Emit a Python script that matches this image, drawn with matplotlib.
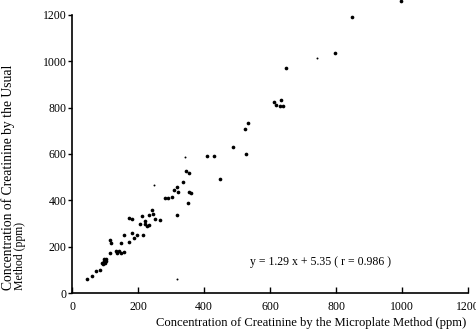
import matplotlib
matplotlib.use("Agg")
import matplotlib.pyplot as plt

plt.rcParams["font.family"] = ["Liberation Serif", "DejaVu Serif"]

# microplate method (x) vs usual method (y), ppm
micro = [997, 849, 798, 648, 612, 632, 618, 630, 638, 533, 523, 489, 527,
         408, 431, 448, 345, 353, 335, 318, 308, 320, 355, 361, 282, 292,
         302, 351, 241, 246, 233, 252, 268, 319, 211, 172, 183, 222, 207,
         220, 232, 227, 158, 181, 198, 216, 189, 172, 148, 115, 119, 133,
         143, 148, 137, 159, 115, 92, 96, 100, 98, 104, 94, 102, 84, 72,
         60, 44]
usual = [1260, 1191, 1037, 973, 823, 834, 811, 808, 808, 735, 709, 630, 600,
         590, 590, 492, 528, 518, 478, 456, 446, 437, 436, 430, 410, 409,
         416, 387, 357, 341, 335, 318, 315, 335, 332, 324, 318, 311, 298,
         296, 295, 288, 252, 258, 252, 252, 236, 222, 217, 229, 215, 180,
         183, 171, 174, 178, 174, 130, 140, 128, 148, 136, 124, 145, 101, 94,
         75, 62]
# faint specks
faint_x = [741, 342, 317, 249]
faint_y = [1016, 586, 60, 466]

fig = plt.figure(figsize=(4.76, 3.31), dpi=100)
ax = fig.add_axes([0.1513, 0.1148, 0.832, 0.84])

ax.scatter(micro, usual, s=7, c="black", linewidths=0, clip_on=False)
ax.scatter(faint_x, faint_y, s=2, c="black", linewidths=0, clip_on=False)

ax.set_xlim(0, 1200)
ax.set_ylim(0, 1200)
ax.set_xticks([0, 200, 400, 600, 800, 1000, 1200])
ax.set_yticks([0, 200, 400, 600, 800, 1000, 1200])
ax.spines["top"].set_visible(False)
ax.spines["right"].set_visible(False)
for s in ("left", "bottom"):
    ax.spines[s].set_linewidth(1.2)
ax.tick_params(axis="x", direction="in", length=4, width=1, labelsize=8.5, pad=6)
ax.tick_params(axis="y", direction="out", length=3, width=1, labelsize=8.5, pad=1)

ax.text(752, 134, "y = 1.29 x + 5.35 ( r = 0.986 )", fontsize=8.5,
        ha="center", va="center")

fig.text(0.979, 0.024, "Concentration of Creatinine by the Microplate Method (ppm)",
         fontsize=9.1, ha="right", va="center")
fig.text(0.016, 0.124, "Concentration of Creatinine by the Usual",
         fontsize=9.8, rotation=90, ha="center", va="bottom")
fig.text(0.042, 0.124, "Method (ppm)",
         fontsize=8.5, rotation=90, ha="center", va="bottom")

fig.savefig("out.png", dpi=100)
